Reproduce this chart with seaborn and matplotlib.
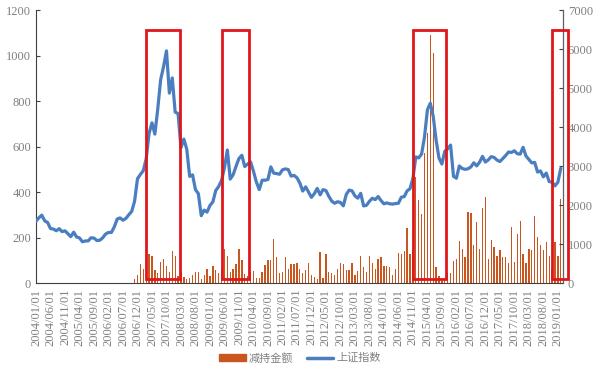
import numpy as np
import pandas as pd
import matplotlib
matplotlib.use('Agg')
import matplotlib.pyplot as plt
import seaborn as sns
from matplotlib.patches import Rectangle, Patch
from matplotlib.lines import Line2D

sns.set_style('white')
plt.rcParams['font.family'] = ['Liberation Serif', 'Noto Sans CJK SC']

# monthly, 2004/01 .. 2019/02
months = pd.date_range('2004-01-01', '2019-02-01', freq='MS')
month_labels = list(months.strftime('%Y/%m/%d'))
month_keys = list(months.strftime('%Y/%m'))

# 上证指数 month-end close
index_close = [
    1590, 1675, 1742, 1595, 1555, 1399, 1386, 1342, 1396, 1320, 1340, 1266,
    1191, 1306, 1181, 1159, 1060, 1080, 1083, 1162, 1155, 1092, 1099, 1161,
    1258, 1299, 1298, 1440, 1641, 1672, 1612, 1658, 1752, 1837, 2099, 2675,
    2786, 2881, 3183, 3841, 4109, 3820, 4471, 5218, 5552, 5954, 4871, 5261,
    4383, 4348, 3472, 3693, 3433, 2736, 2775, 2397, 2293, 1728, 1871, 1820,
    1990, 2082, 2373, 2477, 2632, 2959, 3412, 2667, 2779, 2996, 3195, 3277,
    2989, 3051, 3109, 2871, 2592, 2398, 2638, 2638, 2656, 2979, 2820, 2808,
    2791, 2905, 2928, 2911, 2743, 2762, 2701, 2567, 2359, 2468, 2333, 2199,
    2292, 2428, 2262, 2397, 2373, 2225, 2103, 2047, 2086, 2069, 1980, 2269,
    2385, 2366, 2237, 2178, 2301, 1979, 1994, 2098, 2175, 2141, 2220, 2116,
    2033, 2056, 2033, 2026, 2039, 2048, 2202, 2217, 2364, 2420, 2683, 3235,
    3210, 3310, 3748, 4442, 4612, 4277, 3664, 3206, 3053, 3383, 3445, 3539,
    2738, 2688, 3004, 2938, 2917, 2930, 2979, 3085, 3005, 3100, 3250, 3104,
    3159, 3242, 3223, 3155, 3117, 3192, 3273, 3361, 3349, 3393, 3317, 3307,
    3481, 3259, 3169, 3082, 3095, 2847, 2876, 2725, 2821, 2603, 2588, 2494,
    2585, 2941,
]

# 减持金额 per month
reduce_amount = [
    0, 0, 0, 0, 0, 0, 0, 0, 0, 0, 0, 0,
    0, 0, 0, 0, 0, 0, 0, 0, 0, 0, 0, 0,
    0, 0, 0, 0, 0, 0, 0, 0, 0, 0, 16, 35,
    84, 63, 40, 127, 119, 57, 44, 92, 105, 75, 48, 141,
    121, 30, 50, 28, 20, 24, 35, 47, 50, 20, 35, 64,
    30, 75, 57, 45, 64, 148, 121, 50, 64, 83, 148, 101,
    40, 30, 50, 55, 24, 24, 48, 79, 101, 101, 196, 113,
    44, 50, 113, 60, 83, 83, 88, 64, 44, 57, 88, 35,
    28, 18, 138, 24, 127, 48, 44, 35, 60, 88, 83, 57,
    57, 88, 35, 55, 119, 72, 50, 119, 88, 64, 105, 113,
    75, 75, 72, 35, 60, 132, 130, 142, 240, 130, 150, 467,
    365, 302, 570, 660, 1090, 1010, 72, 31, 10, 15, 43, 43,
    95, 108, 186, 152, 113, 313, 306, 167, 270, 152, 331, 380,
    105, 189, 160, 119, 145, 113, 116, 89, 248, 94, 218, 272,
    126, 89, 148, 145, 294, 204, 167, 145, 182, 120, 60, 182,
    119, 369,
]

# highlighted periods (red boxes)
highlights = [('2007/03', '2008/02'), ('2009/05', '2010/02'),
              ('2014/11', '2015/10'), ('2018/11', '2019/04')]

bar_color = '#C8561E'
line_color = '#4A7EC0'
grey = '#808080'

df = pd.DataFrame({'month': month_labels, 'reduce': reduce_amount, 'index': index_close})
df['pos'] = np.arange(len(df))

fig = plt.figure(figsize=(6, 3.73), dpi=100)
ax = fig.add_axes([0.06, 0.241, 0.878, 0.732])
sns.barplot(data=df, x='pos', y='reduce', color=bar_color, saturation=1,
            width=0.45, linewidth=0, native_scale=True, ax=ax)
ax2 = ax.twinx()
sns.lineplot(data=df, x='pos', y='index', color=line_color, lw=2.3, ax=ax2)

ax.set_xlim(0, 181.7)
ax.set_ylim(0, 1200)
ax2.set_ylim(0, 7000)
ax.set_yticks(range(0, 1201, 200))
ax2.set_yticks(range(0, 7001, 1000))
ax.set_xticks(df['pos'][::5])
ax.set_xticklabels(df['month'][::5], rotation=90)
for a in (ax, ax2):
    a.set_xlabel('')
    a.set_ylabel('')
    a.spines['top'].set_visible(False)
    a.tick_params(direction='in', length=3, width=0.8, colors='#404040',
                  labelcolor=grey, labelsize=9)
ax.tick_params(axis='x', labelsize=9, pad=4)
ax.spines['left'].set_color('#404040')
ax.spines['bottom'].set_color('#404040')
ax2.spines['right'].set_color('#606060')
ax2.spines['left'].set_visible(False)
ax2.spines['bottom'].set_visible(False)

# red boxes
for s, e in highlights:
    x0 = month_keys.index(s)
    x1 = (month_keys.index(e) if e in month_keys else 183) + 0.5
    ax2.add_patch(Rectangle((x0, 20), x1 - x0, 1092, transform=ax.transData,
                            fill=False, ec='#E0161B', lw=2, clip_on=False, zorder=5))
ax2.set_ylim(0, 7000)

handles = [Patch(color=bar_color), Line2D([], [], color=line_color, lw=2.5)]
fig.legend(handles, ['减持金额', '上证指数'], loc='center', bbox_to_anchor=(0.5, 0.04),
           ncol=2, frameon=False, fontsize=8, handlelength=2.4, handleheight=0.5,
           handletextpad=0.3, columnspacing=1.2, labelcolor=grey)

fig.savefig('out.png', dpi=100)
